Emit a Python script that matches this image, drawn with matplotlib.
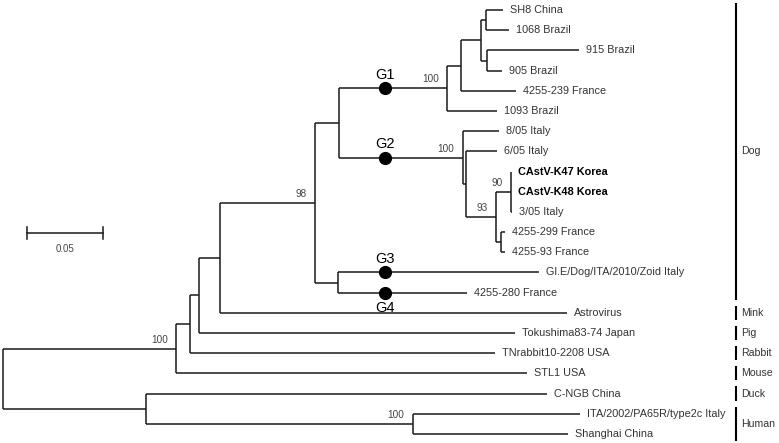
import matplotlib
matplotlib.use("Agg")
import matplotlib.pyplot as plt

plt.rcParams["font.family"] = ["Liberation Sans", "DejaVu Sans"]

# leaves, top to bottom, with parent node and branch length (substitutions/site)
TIP_NAMES = [
    "SH8 China", "1068 Brazil", "915 Brazil", "905 Brazil", "4255-239 France",
    "1093 Brazil", "8/05 Italy", "6/05 Italy", "CAstV-K47 Korea", "CAstV-K48 Korea",
    "3/05 Italy", "4255-299 France", "4255-93 France", "Gl.E/Dog/ITA/2010/Zoid Italy",
    "4255-280 France", "Astrovirus", "Tokushima83-74 Japan", "TNrabbit10-2208 USA",
    "STL1 USA", "C-NGB China", "ITA/2002/PA65R/type2c Italy", "Shanghai China",
]
TIP_PARENT = [
    "nSH8", "nSH8", "n915", "n915", "nG1a",
    "nG1", "nG2", "nG2b", "n90", "n90",
    "n90", "nFr", "nFr", "nG34",
    "nG34", "nMink", "nPig", "nRabbit",
    "n100", "nDuck", "nHuman", "nHuman",
]
TIP_LENGTH = [
    0.0111, 0.0151, 0.0605, 0.0099, 0.0362,
    0.0329, 0.0237, 0.0204, 0.0, 0.0,
    0.0007, 0.0027, 0.0027, 0.1322,
    0.0849, 0.2283, 0.2079, 0.2007,
    0.2309, 0.2638, 0.1099, 0.1020,
]
BOLD_TIPS = ["CAstV-K47 Korea", "CAstV-K48 Korea"]

# internal nodes
NODE_NAMES = ["root", "n100", "nDuck", "nHuman", "nRabbit", "nPig", "nMink", "n98",
              "nG12", "nG34", "nG1", "nG1a", "nG1b", "nSH8", "n915",
              "nG2", "nG2b", "n93", "n90", "nFr"]
NODE_PARENT = [None, "root", "root", "nDuck", "n100", "nRabbit", "nPig", "nMink",
               "n98", "n98", "nG12", "nG1", "nG1a", "nG1b", "nG1b",
               "nG12", "nG2", "nG2b", "n93", "n93"]
NODE_LENGTH = [0.0, 0.1138, 0.0941, 0.1756, 0.0092, 0.0059, 0.0139, 0.0625,
               0.0158, 0.0151, 0.0710, 0.0092, 0.0132, 0.0033, 0.0039,
               0.0815, 0.0020, 0.0197, 0.0099, 0.0033]
NODE_SUPPORT = [None, 100, None, 100, None, None, None, 98,
                None, None, 100, None, None, None, None,
                100, None, 93, 90, None]

GROUP_NAMES = ["Dog", "Mink", "Pig", "Rabbit", "Mouse", "Duck", "Human"]
GROUP_FIRST = [0, 15, 16, 17, 18, 19, 20]
GROUP_LAST = [14, 15, 16, 17, 18, 19, 21]

GENO_LABELS = ["G1", "G2", "G3", "G4"]
GENO_BRANCH = ["nG1", "nG2", "Gl.E/Dog/ITA/2010/Zoid Italy", "4255-280 France"]
GENO_SIDE = ["above", "above", "above", "below"]
GENO_DEPTH = 0.2513

SCALE_LEN = 0.05

# ---- build tree ----
parent = dict(zip(NODE_NAMES, NODE_PARENT))
parent.update(zip(TIP_NAMES, TIP_PARENT))
length = dict(zip(NODE_NAMES, NODE_LENGTH))
length.update(zip(TIP_NAMES, TIP_LENGTH))
children = {n: [] for n in NODE_NAMES}
for n in NODE_NAMES + TIP_NAMES:
    if parent[n] is not None:
        children[parent[n]].append(n)

depth = {}


def get_depth(n):
    if n not in depth:
        p = parent[n]
        depth[n] = 0.0 if p is None else get_depth(p) + length[n]
    return depth[n]


ypos = {n: i for i, n in enumerate(TIP_NAMES)}


def get_y(n):
    if n not in ypos:
        ys = [get_y(c) for c in children[n]]
        ypos[n] = (min(ys) + max(ys)) / 2
    return ypos[n]


for n in NODE_NAMES + TIP_NAMES:
    get_depth(n)
    get_y(n)

# ---- draw ----
px = SCALE_LEN / 76  # one pixel in branch-length units
fig = plt.figure(figsize=(7.79, 4.43), dpi=100)
ax = fig.add_axes([0, 0, 1, 1])
ax.set_xlim(-3 * px, 776 * px)
ax.set_ylim(21.45, -0.5)
ax.axis("off")

lc = "#1a1a1a"
lw = 1.1
for n in NODE_NAMES + TIP_NAMES:
    p = parent[n]
    if p is not None:
        ax.plot([depth[p], depth[n]], [ypos[n], ypos[n]], color=lc, lw=lw, solid_capstyle="butt")
for n in NODE_NAMES:
    ys = [ypos[c] for c in children[n]]
    ax.plot([depth[n], depth[n]], [min(ys), max(ys)], color=lc, lw=lw, solid_capstyle="butt")

for n in TIP_NAMES:
    bold = n in BOLD_TIPS
    ax.annotate(n, (depth[n], ypos[n]), xytext=(5, 0), textcoords="offset points",
                ha="left", va="center", fontsize=7.8,
                color="black" if bold else "#333333",
                fontweight="bold" if bold else "normal")

for n, s in zip(NODE_NAMES, NODE_SUPPORT):
    if s is not None:
        ax.annotate(str(s), (depth[n], ypos[n]), xytext=(-6, 3), textcoords="offset points",
                    ha="right", va="bottom", fontsize=7.2, color="#444444")

for lab, br, side in zip(GENO_LABELS, GENO_BRANCH, GENO_SIDE):
    y = ypos[br]
    ax.plot(GENO_DEPTH, y, "o", ms=8.5, color="black")
    if side == "above":
        ax.annotate(lab, (GENO_DEPTH, y), xytext=(0, 7), textcoords="offset points",
                    ha="center", va="baseline", fontsize=10.5, color="black")
    else:
        ax.annotate(lab, (GENO_DEPTH, y), xytext=(0, -6), textcoords="offset points",
                    ha="center", va="top", fontsize=10.5, color="black")

# host group bars
bar_x = 733 * px
for name, a, b in zip(GROUP_NAMES, GROUP_FIRST, GROUP_LAST):
    ax.plot([bar_x, bar_x], [a - 0.35, b + 0.35], color="black", lw=1.5, solid_capstyle="butt")
    ax.text(bar_x + 5 * px, (a + b) / 2, name, ha="left", va="center", fontsize=7.6, color="#333333")

# scale bar
sx0 = 24 * px
sy = 11.05
ax.plot([sx0, sx0 + SCALE_LEN], [sy, sy], color=lc, lw=lw)
for xx in (sx0, sx0 + SCALE_LEN):
    ax.plot([xx, xx], [sy - 0.3, sy + 0.3], color=lc, lw=lw)
ax.annotate(f"{SCALE_LEN:.2f}", (sx0 + SCALE_LEN / 2, sy), xytext=(0, -8), textcoords="offset points",
            ha="center", va="top", fontsize=7, color="#444444")

fig.savefig("out.png", dpi=100)
